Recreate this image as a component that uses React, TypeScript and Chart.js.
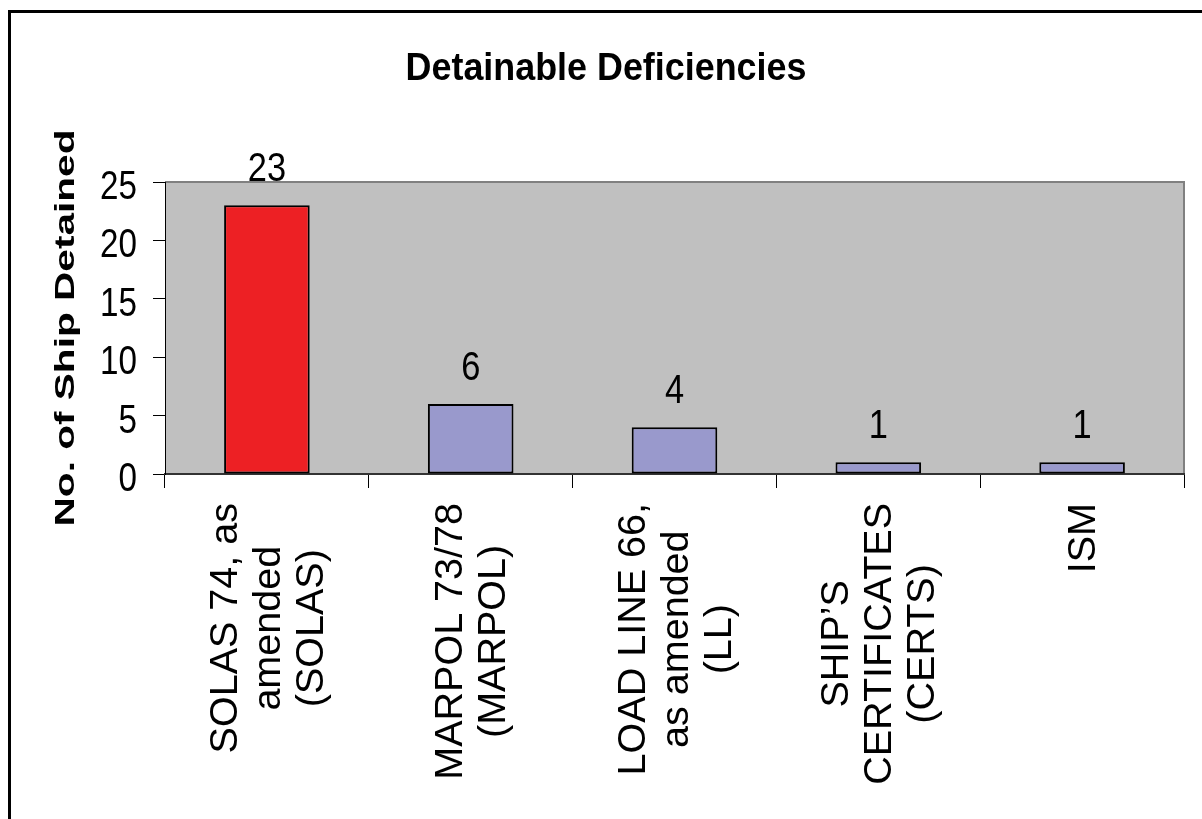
import React, { useEffect, useRef } from "react";
import { Chart, registerables } from "chart.js";

Chart.register(...registerables);

// ---- data ----
const chartTitle = "Detainable Deficiencies";
const yAxisTitle = "No. of Ship Detained";
const categoryLines: string[][] = [
  ["SOLAS 74, as", "amended", "(SOLAS)"],
  ["MARPOL 73/78", "(MARPOL)"],
  ["LOAD LINE 66,", "as amended", "(LL)"],
  ["SHIP’S", "CERTIFICATES", "(CERTS)"],
  ["ISM"],
];
const shipsDetained = [23, 6, 4, 1, 1];
const barColors = ["#ED2024", "#9999CC", "#9999CC", "#9999CC", "#9999CC"];
const yMin = 0;
const yMax = 25;
const yStep = 5;

const FONT = '"Liberation Sans", Arial, Helvetica, sans-serif';

type TextOpts = {
  size: number;
  bold?: boolean;
  sx?: number;
  align?: CanvasTextAlign;
  rotate?: boolean;
};

function drawText(
  ctx: CanvasRenderingContext2D,
  text: string,
  x: number,
  y: number,
  { size, bold = false, sx = 1, align = "center", rotate = false }: TextOpts
) {
  ctx.save();
  ctx.translate(x, y);
  if (rotate) ctx.rotate(-Math.PI / 2);
  ctx.scale(sx, 1);
  ctx.font = `${bold ? "bold " : ""}${size}px ${FONT}`;
  ctx.textAlign = align;
  ctx.textBaseline = "alphabetic";
  ctx.fillStyle = "#000";
  ctx.fillText(text, 0, 0);
  ctx.restore();
}

// Gray plot background, framed on top and right.
const plotBackground = {
  id: "plotBackground",
  beforeDraw(chart: any) {
    const { ctx, chartArea: a } = chart;
    ctx.save();
    ctx.fillStyle = "#C0C0C0";
    ctx.fillRect(a.left, a.top, a.right - a.left, a.bottom - a.top);
    ctx.strokeStyle = "#808080";
    ctx.lineWidth = 2;
    ctx.beginPath();
    ctx.moveTo(a.left, a.top);
    ctx.lineTo(a.right, a.top);
    ctx.lineTo(a.right, a.bottom);
    ctx.stroke();
    ctx.restore();
  },
};

// Titles, tick labels, category labels and value labels.
const textLayer = {
  id: "textLayer",
  afterDraw(chart: any) {
    const { ctx, chartArea: a } = chart;
    const xScale = chart.scales.x;
    const yScale = chart.scales.y;

    drawText(ctx, chartTitle, 606, 80, { size: 39, bold: true, sx: 0.92 });

    drawText(ctx, yAxisTitle, 74, 328, {
      size: 28,
      bold: true,
      sx: 1.45,
      rotate: true,
    });

    yScale.ticks.forEach((t: any) => {
      const py = yScale.getPixelForValue(t.value);
      drawText(ctx, String(t.value), a.left - 28, py + 17, {
        size: 40,
        sx: 0.83,
        align: "right",
      });
    });

    const lineH = 43;
    const catSize = 38;
    const catSx = 1.04;
    categoryLines.forEach((lines, i) => {
      const cx = xScale.getPixelForValue(i);
      ctx.save();
      ctx.font = `${catSize}px ${FONT}`;
      const maxW = Math.max(...lines.map((l) => ctx.measureText(l).width * catSx));
      ctx.restore();
      const centerY = 503 + maxW / 2;
      const n = lines.length;
      lines.forEach((line, j) => {
        const bx = cx + 13 + (j - (n - 1) / 2) * lineH;
        drawText(ctx, line, bx, centerY, {
          size: catSize,
          sx: catSx,
          rotate: true,
        });
      });
    });

    const meta = chart.getDatasetMeta(0);
    meta.data.forEach((bar: any, i: number) => {
      drawText(ctx, String(shipsDetained[i]), bar.x, bar.y - 24, {
        size: 40,
        sx: 0.86,
      });
    });
  },
};

export default function App() {
  const canvasRef = useRef<HTMLCanvasElement | null>(null);

  useEffect(() => {
    if (!canvasRef.current) return;
    Chart.defaults.font.family = FONT;
    const chart = new Chart(canvasRef.current, {
      type: "bar",
      data: {
        labels: categoryLines.map((l) => l.join(" ")),
        datasets: [
          {
            data: shipsDetained,
            backgroundColor: barColors,
            borderColor: "#000",
            borderWidth: 2,
            borderSkipped: false,
            barPercentage: 0.42,
            categoryPercentage: 1,
          },
        ],
      },
      options: {
        responsive: false,
        animation: false,
        devicePixelRatio: 1,
        layout: { padding: { left: 0, top: 182, right: 18, bottom: 0 } },
        plugins: {
          legend: { display: false },
          title: { display: false },
          tooltip: { enabled: false },
        },
        scales: {
          x: {
            type: "category",
            offset: true,
            grid: {
              offset: true,
              drawOnChartArea: false,
              drawTicks: true,
              tickLength: 14,
              color: "#000",
              lineWidth: 1,
            },
            border: { display: true, color: "#333", width: 2 },
            ticks: { display: false },
            afterFit: (s: any) => {
              s.height = 345;
            },
          },
          y: {
            min: yMin,
            max: yMax,
            ticks: { display: false, stepSize: yStep },
            grid: {
              drawOnChartArea: false,
              drawTicks: true,
              tickLength: 12,
              color: "#000",
              lineWidth: 1,
            },
            border: { display: true, color: "#000", width: 1 },
            afterFit: (s: any) => {
              s.width = 165;
            },
          },
        },
      },
      plugins: [plotBackground, textLayer],
    });
    return () => chart.destroy();
  }, []);

  return (
    <div
      style={{
        position: "fixed",
        left: 0,
        top: 0,
        width: 1202,
        height: 819,
        overflow: "hidden",
        background: "#fff",
      }}
    >
      <div
        style={{
          position: "absolute",
          left: 8,
          top: 10,
          width: 1300,
          height: 900,
          borderTop: "3px solid #000",
          borderLeft: "3px solid #000",
        }}
      />
      <canvas
        ref={canvasRef}
        width={1202}
        height={819}
        style={{ position: "absolute", left: 0, top: 0, display: "block" }}
      />
    </div>
  );
}
